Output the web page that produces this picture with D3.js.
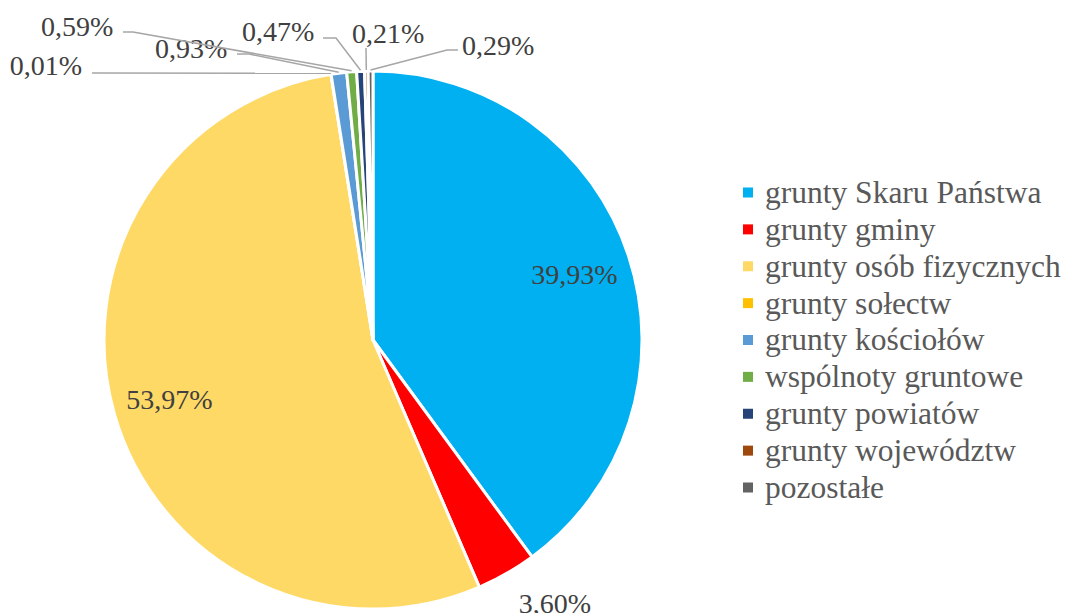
<!DOCTYPE html>
<html>
<head>
<meta charset="utf-8"/>
<script src="https://d3js.org/d3.v7.min.js"></script>
</head>
<body style="margin:0">
<script>
// data
var categories = ["grunty Skaru Państwa", "grunty gminy", "grunty osób fizycznych", "grunty sołectw",
                  "grunty kościołów", "wspólnoty gruntowe", "grunty powiatów", "grunty województw", "pozostałe"];
var shares = [39.93, 3.60, 53.97, 0.01, 0.93, 0.59, 0.47, 0.21, 0.29];
var colors = ["#00b0f0", "#ff0000", "#ffd966", "#ffc000", "#5b9bd5", "#70ad47", "#264478", "#9e480e", "#636363"];

// label placement (text position + leader line start/elbow), by slice index
var labelLayout = {
  0: {inside: true},
  1: {x: 555, y: 613, anchor: "middle"},
  2: {inside: true},
  3: {x: 82,  y: 75, anchor: "end",   line: [[92, 73], [92, 73]]},
  4: {x: 155, y: 58, anchor: "start", line: [[237, 54], [249, 54]]},
  5: {x: 41,  y: 36, anchor: "start", line: [[123, 32], [133, 32]]},
  6: {x: 242, y: 41, anchor: "start", line: [[323, 38], [336, 38]]},
  7: {x: 352, y: 43, anchor: "start", line: [[366, 48], [366, 48]]},
  8: {x: 462, y: 55, anchor: "start", line: [[458, 50], [447, 50]]}
};

var W = 1069, H = 613;
var cx = 373, cy = 340, r = 269;

var svg = d3.select("body").append("svg")
    .attr("width", W)
    .attr("height", H);

var fmt = function(v) { return v.toFixed(2).replace(".", ",") + "%"; };

var pie = d3.pie().sort(null).value(function(d) { return d; })
    .startAngle(0).endAngle(2 * Math.PI);
var arcs = pie(shares);

var arc = d3.arc().innerRadius(0).outerRadius(r);
var labelArc = d3.arc().innerRadius(212).outerRadius(212);

var g = svg.append("g").attr("transform", "translate(" + cx + "," + cy + ")");

g.selectAll("path.slice")
  .data(arcs)
  .enter().append("path")
    .attr("class", "slice")
    .attr("d", arc)
    .attr("fill", function(d, i) { return colors[i]; })
    .attr("stroke", "#fff")
    .attr("stroke-width", 3)
    .attr("stroke-linejoin", "round");

// inside labels
arcs.forEach(function(d, i) {
  var lay = labelLayout[i];
  if (lay.inside) {
    var c = labelArc.centroid(d);
    g.append("text")
      .attr("x", c[0]).attr("y", c[1])
      .attr("dy", "0.35em")
      .attr("text-anchor", "middle")
      .attr("font-family", "'Liberation Serif', monospace")
      .attr("font-size", 28)
      .attr("fill", "#404040")
      .text(fmt(shares[i]));
  }
});

// outside labels with leader lines
arcs.forEach(function(d, i) {
  var lay = labelLayout[i];
  if (lay.inside) return;
  if (lay.line) {
    var mid = (d.startAngle + d.endAngle) / 2;
    var end = [cx + (r + 1) * Math.sin(mid), cy - (r + 1) * Math.cos(mid)];
    svg.append("polyline")
      .attr("points", [lay.line[0], lay.line[1], end].map(function(p) { return p.join(","); }).join(" "))
      .attr("fill", "none")
      .attr("stroke", "#a6a6a6")
      .attr("stroke-width", 1.5);
  }
  svg.append("text")
    .attr("x", lay.x).attr("y", lay.y)
    .attr("text-anchor", lay.anchor)
    .attr("font-family", "'Liberation Serif', monospace")
    .attr("font-size", 28)
    .attr("fill", "#404040")
    .text(fmt(shares[i]));
});

// legend
var legY = d3.scalePoint().domain(categories).range([192.5, 487.5]);
var leg = svg.append("g").selectAll("g")
  .data(categories)
  .enter().append("g")
    .attr("transform", function(d) { return "translate(743," + legY(d) + ")"; });

leg.append("rect")
  .attr("x", 0).attr("y", -5)
  .attr("width", 10).attr("height", 10)
  .attr("fill", function(d, i) { return colors[i]; });

leg.append("text")
  .attr("x", 22).attr("dy", "0.33em")
  .attr("font-family", "'Liberation Serif', monospace")
  .attr("font-size", 31.5)
  .attr("fill", "#595959")
  .text(function(d) { return d; });
</script>
</body>
</html>
